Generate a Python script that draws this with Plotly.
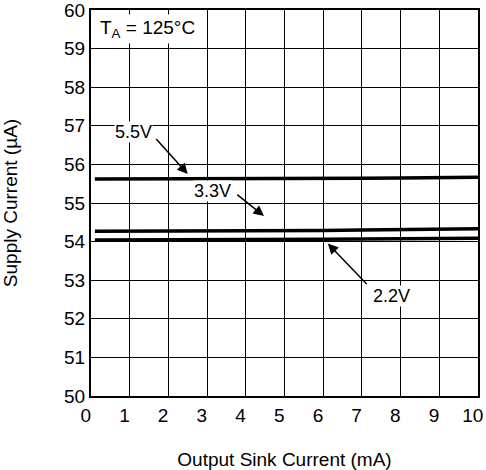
import plotly.graph_objects as go

x_ma = [0.1, 1, 2, 3, 4, 5, 6, 7, 8, 9, 10]
i_55 = [55.62, 55.62, 55.62, 55.63, 55.62, 55.62, 55.63, 55.64, 55.65, 55.66, 55.67]
i_33 = [54.27, 54.27, 54.27, 54.27, 54.28, 54.28, 54.29, 54.30, 54.31, 54.32, 54.33]
i_22 = [54.04, 54.04, 54.04, 54.04, 54.05, 54.05, 54.06, 54.07, 54.08, 54.08, 54.09]

x_ticks = list(range(0, 11))
y_ticks = list(range(50, 61))

FONT = "Liberation Sans, Arial, sans-serif"

fig = go.Figure()
for ys, name in [(i_55, "5.5V"), (i_33, "3.3V"), (i_22, "2.2V")]:
    fig.add_trace(go.Scatter(x=x_ma, y=ys, mode="lines", name=name,
                             line=dict(color="black", width=3.5), showlegend=False))

anns = [
    dict(text="5.5V", x=1.1, y=56.85, ax=1.65, ay=56.7, head_x=2.5, head_y=55.75),
    dict(text="3.3V", x=3.15, y=55.3, ax=3.74, ay=55.25, head_x=4.47, head_y=54.66),
    dict(text="2.2V", x=7.77, y=52.6, ax=7.16, ay=52.86, head_x=6.12, head_y=53.95),
]
for a in anns:
    fig.add_annotation(x=a["x"], y=a["y"], text=a["text"], showarrow=False,
                       font=dict(size=18, color="black", family=FONT),
                       bgcolor="white", borderpad=0)
    fig.add_annotation(x=a["head_x"], y=a["head_y"], ax=a["ax"], ay=a["ay"],
                       axref="x", ayref="y", text="", showarrow=True,
                       arrowhead=2, arrowsize=1.4, arrowwidth=1.5, arrowcolor="black")

fig.add_annotation(xref="paper", yref="paper", x=0.015, y=0.99, xanchor="left", yanchor="top",
                   text="T<sub>A</sub> = 125°C", showarrow=False,
                   font=dict(size=19, color="black", family=FONT),
                   bgcolor="white", borderpad=2)

axis_common = dict(showgrid=True, gridcolor="black", gridwidth=1.2,
                   showline=True, linecolor="black", linewidth=2, mirror=True,
                   ticks="", zeroline=False, ticklabeloverflow="allow", automargin=False,
                   tickfont=dict(size=19, color="black", family=FONT))

fig.update_xaxes(range=[0, 10], tickvals=x_ticks,
                 ticktext=[f"{v}\u00a0\u00a0" for v in x_ticks],
                 ticklabelstandoff=1,
                 title=dict(text="Output Sink Current (mA)", font=dict(size=19, color="black", family=FONT), standoff=29),
                 **axis_common)
fig.update_yaxes(range=[50, 60], tickvals=y_ticks, ticktext=[str(v) for v in y_ticks],
                 title=dict(text="Supply Current (µA)", font=dict(size=19, color="black", family=FONT), standoff=42),
                 **axis_common)

fig.update_layout(width=486, height=470, margin=dict(l=91, r=8, t=10, b=74),
                  plot_bgcolor="white", paper_bgcolor="white",
                  font=dict(family=FONT, color="black"))

fig.write_html("out.html", config={"displayModeBar": False},
               post_script="document.body.style.margin='0';")
